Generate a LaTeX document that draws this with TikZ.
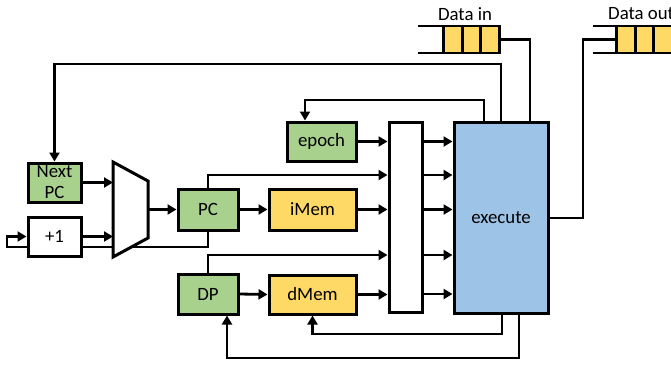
\documentclass[tikz,border=0pt]{standalone}
\usepackage{fontspec}
\setmainfont{Carlito}
\usetikzlibrary{arrows.meta,backgrounds}
\definecolor{boxgreen}{HTML}{A9D18E}
\definecolor{boxyellow}{HTML}{FFD966}
\definecolor{boxblue}{HTML}{9DC3E6}
\begin{document}
\begin{tikzpicture}[x=1pt,y=-1pt,
  font=\fontsize{18.8}{22}\selectfont,
  blk/.style={draw=black, line width=3pt, inner sep=0pt, align=center},
  gblk/.style={blk, fill=boxgreen},
  yblk/.style={blk, fill=boxyellow},
  cell/.style={draw=black, line width=2.8pt, fill=boxyellow, minimum width=18.5pt, minimum height=27pt, inner sep=0pt},
  wire/.style={line width=2.8pt, line join=miter},
  arr/.style={wire, -{Triangle[length=9pt,width=10pt]}},
  lbl/.style={inner sep=0pt}]
\useasboundingbox (0,0) rectangle (671,370);

% blocks
\node[gblk, minimum width=53pt, minimum height=39pt] (nextpc) at (54.5,182.5) {Next\\[-1pt]PC};
\node[blk, fill=white, minimum width=53pt, minimum height=39pt] (plus) at (54.5,236.5) {+1};
\node[gblk, minimum width=60pt, minimum height=41pt] (pc) at (208,209.5) {PC};
\node[yblk, minimum width=87pt, minimum height=41pt] (imem) at (312.5,209.5) {iMem};
\node[gblk, minimum width=69pt, minimum height=39pt] (epoch) at (321.5,141.5) {epoch};
\node[gblk, minimum width=60pt, minimum height=40pt] (dp) at (208,294) {DP};
\node[yblk, minimum width=87pt, minimum height=39pt] (dmem) at (312.5,294.5) {dMem};
\node[blk, fill=white, minimum width=33pt, minimum height=190pt] (reg) at (405.5,217) {};
\node[blk, fill=boxblue, minimum width=94pt, minimum height=191pt] (exec) at (501,217.5) {execute};

% multiplexer
\draw[line width=3pt, fill=white, line join=miter] (113,162) -- (148,181) -- (148,238) -- (113,257) -- cycle;
\coordinate (muxA) at (113,182.5);
\coordinate (muxB) at (113,236.5);
\coordinate (muxO) at (148,209.5);

% FIFOs
\draw[wire] (418,26) -- (499,26);
\draw[wire] (418,53) -- (499,53);
\node[cell] (in1) at (453,39.5) {};
\node[cell] (in2) at (471.5,39.5) {};
\node[cell] (in3) at (490,39.5) {};
\node[lbl] (lin) at (465,14) {Data in};

\draw[wire] (593,26) -- (680,26);
\draw[wire] (593,53) -- (680,53);
\node[cell] (out1) at (626,39.5) {};
\node[cell] (out2) at (644.5,39.5) {};
\node[cell] (out3) at (663,39.5) {};
\node[lbl, anchor=west] (lout) at (608,14) {Data out};

% PC -> +1 loop (behind boxes)
\begin{scope}[on background layer]
\coordinate (lp) at (7,247);
\draw[arr] (pc.south) |- (lp) |- (plus.west);
\end{scope}

% front-end wires
\draw[arr] (nextpc.east) -- (muxA);
\draw[arr] (plus.east) -- (muxB);
\draw[arr] (muxO) -- (pc.west);
\draw[arr] (pc.east) -- (imem.west);
\draw[arr] (dp.east) -- (dmem.west);

% into register column
\draw[arr] (epoch.east) -- (reg.west |- epoch.east);
\draw[arr] (pc.north) |- (reg.west |- 0,175);
\draw[arr] (imem.east) -- (reg.west |- imem.east);
\draw[arr] (dp.north) |- (reg.west |- 0,255);
\draw[arr] (dmem.east) -- (reg.west |- dmem.east);

% register column -> execute
\foreach \yy in {141.5,175,209.5,255,294}
  \draw[arr] (reg.east |- 0,\yy) -- (exec.west |- 0,\yy);

% feedback from execute
\coordinate (fbE) at (484,100);
\draw[arr] (exec.north -| fbE) |- ([xshift=-16.5pt]epoch.north |- fbE) -- ([xshift=-16.5pt]epoch.north);
\coordinate (fbN) at (501,64);
\draw[arr] (exec.north -| fbN) |- (nextpc.north |- fbN) -- (nextpc.north);
\coordinate (fbD) at (530,40);
\draw[wire] (in3.east) -| (exec.north -| fbD);
\coordinate (fbO) at (583,218);
\draw[wire] (exec.east |- fbO) -- (fbO) |- (out1.west);
\coordinate (fbM) at (502,334);
\draw[arr] (exec.south -| fbM) |- (dmem.south |- fbM) -- (dmem.south);
\coordinate (fbP) at (519,358);
\draw[arr] (exec.south -| fbP) |- ([xshift=19pt]dp.south |- fbP) -- ([xshift=19pt]dp.south);
\end{tikzpicture}
\end{document}
